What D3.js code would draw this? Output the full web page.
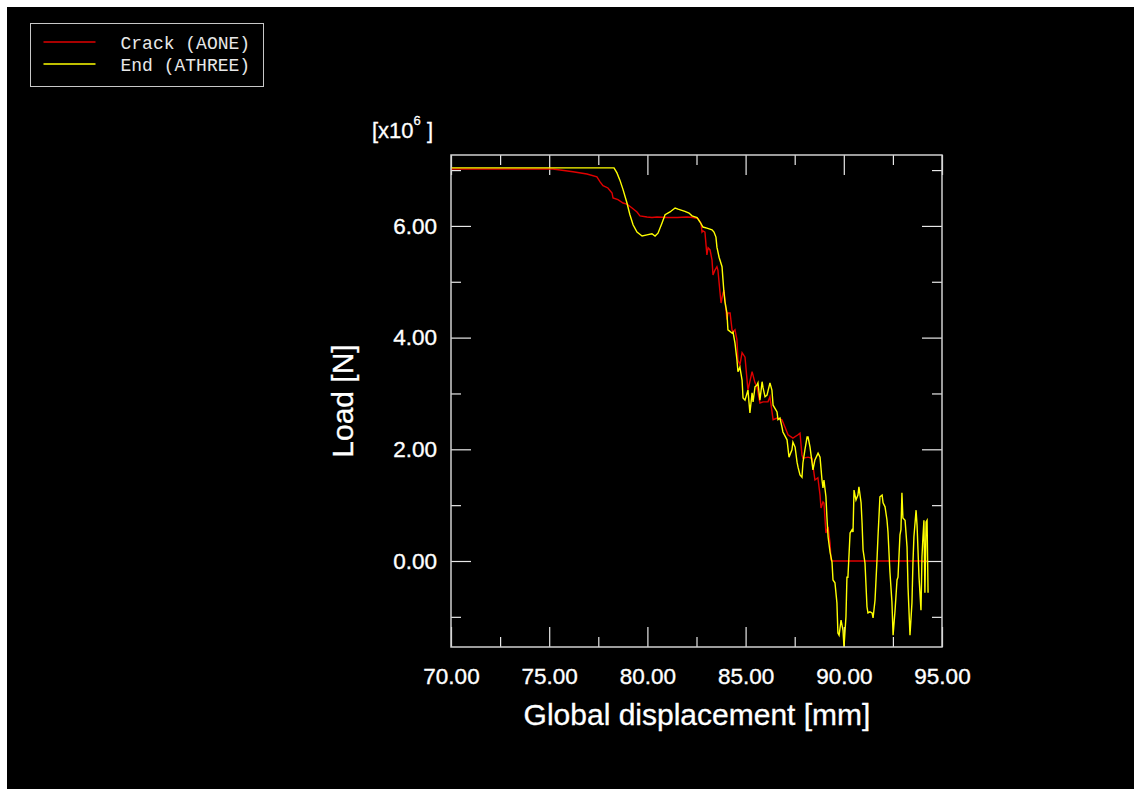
<!DOCTYPE html>
<html>
<head>
<meta charset="utf-8">
<script src="https://cdn.jsdelivr.net/npm/d3@7"></script>
<style>
  body { margin: 0; background: #fff; }
  svg { display: block; }
</style>
</head>
<body>
<div id="chart"></div>
<script>
// Crack (AONE): [displacement mm, load x1e6 N]
const crackData = [
  [70.0, 7.02], [75.19, 7.02], [76.21, 6.97], [76.92, 6.93], [77.43, 6.88], [77.59, 6.79],
  [77.74, 6.72], [77.99, 6.68], [78.2, 6.59], [78.25, 6.5], [78.5, 6.47], [78.76, 6.41],
  [78.96, 6.39], [79.22, 6.32], [79.47, 6.25], [79.62, 6.18], [79.98, 6.16], [80.23, 6.15],
  [80.49, 6.16], [81.0, 6.15], [81.51, 6.15], [82.02, 6.16], [82.32, 6.15], [82.58, 6.13],
  [82.73, 6.05], [82.78, 5.89], [82.83, 5.91], [82.93, 5.89], [83.03, 5.48], [83.09, 5.61],
  [83.19, 5.57], [83.29, 5.39], [83.34, 5.12], [83.44, 5.21], [83.54, 5.27], [83.59, 5.21],
  [83.7, 4.8], [83.75, 4.62], [83.85, 4.8], [83.9, 4.85], [84.05, 4.32], [84.1, 4.44],
  [84.21, 4.44], [84.31, 4.14], [84.36, 4.1], [84.46, 4.14], [84.56, 3.96], [84.61, 3.6],
  [84.71, 3.51], [84.82, 3.73], [84.97, 3.65], [85.12, 3.06], [85.33, 3.39], [85.48, 3.19],
  [85.58, 3.12], [85.73, 2.83], [85.89, 2.85], [86.14, 2.85], [86.24, 2.94], [86.4, 2.53],
  [86.6, 2.56], [86.85, 2.53], [87.06, 2.35], [87.16, 2.26], [87.41, 2.2], [87.67, 2.26],
  [87.77, 2.29], [87.87, 1.9], [87.92, 1.84], [88.18, 1.86], [88.38, 1.84], [88.53, 1.45],
  [88.68, 1.49], [88.79, 1.18], [88.84, 0.95], [88.94, 1.06], [88.99, 1.04], [89.09, 0.5],
  [89.2, 0.61], [89.3, 0.32], [89.35, 0.02], [89.4, 0.0], [94.29, 0.0]
];

// End (ATHREE)
const endData = [
  [70.0, 7.04], [78.3, 7.04], [78.45, 6.95], [78.6, 6.82], [78.76, 6.65], [78.96, 6.41],
  [79.11, 6.2], [79.27, 6.02], [79.47, 5.89], [79.73, 5.82], [79.98, 5.84], [80.23, 5.86],
  [80.39, 5.82], [80.54, 5.87], [80.74, 6.05], [80.9, 6.2], [81.15, 6.25], [81.41, 6.32],
  [81.56, 6.3], [81.91, 6.26], [82.12, 6.23], [82.27, 6.18], [82.53, 6.15], [82.68, 6.07],
  [82.83, 5.98], [83.03, 5.96], [83.29, 5.93], [83.39, 5.89], [83.49, 5.8], [83.54, 5.62],
  [83.65, 5.44], [83.8, 5.27], [83.85, 5.03], [83.9, 4.8], [83.95, 4.64], [84.05, 4.44],
  [84.1, 4.14], [84.31, 4.08], [84.36, 4.1], [84.46, 3.9], [84.56, 3.6], [84.61, 3.39],
  [84.71, 3.47], [84.82, 3.24], [84.87, 2.92], [84.97, 2.88], [85.12, 3.06], [85.22, 2.65],
  [85.33, 3.01], [85.38, 2.85], [85.48, 3.12], [85.58, 3.15], [85.63, 3.19], [85.73, 2.88],
  [85.84, 3.21], [85.89, 3.1], [85.99, 2.94], [86.09, 2.97], [86.24, 3.19], [86.34, 3.06],
  [86.4, 2.79], [86.6, 2.67], [86.65, 2.53], [86.75, 2.56], [86.85, 2.4], [86.9, 2.31],
  [87.11, 2.17], [87.21, 1.86], [87.36, 1.99], [87.41, 2.13], [87.52, 2.04], [87.62, 1.77],
  [87.67, 1.68], [87.77, 1.54], [87.87, 1.5], [87.92, 1.76], [88.02, 1.99], [88.13, 2.22],
  [88.18, 2.22], [88.28, 2.04], [88.38, 1.77], [88.43, 1.63], [88.53, 1.81], [88.69, 1.93],
  [88.79, 1.86], [88.89, 1.45], [88.94, 1.31], [88.99, 1.45], [89.09, 1.15], [89.14, 0.79],
  [89.2, 0.43], [89.3, 0.16], [89.4, -0.02], [89.45, -0.34], [89.55, -0.39], [89.65, -0.75],
  [89.7, -1.29], [89.76, -1.33], [89.86, -1.06], [89.96, -1.24], [90.01, -1.54], [90.11, -1.0],
  [90.16, -0.29], [90.21, -0.29], [90.32, 0.5], [90.42, 0.56], [90.47, 0.52], [90.52, 1.27],
  [90.62, 1.09], [90.72, 1.18], [90.77, 1.33], [90.88, 1.04], [90.93, 0.68], [90.98, 0.2],
  [91.08, -0.04], [91.18, -0.82], [91.23, -0.93], [91.33, -0.91], [91.44, -0.93], [91.49, -1.02],
  [91.59, -0.7], [91.69, 0.02], [91.74, 0.43], [91.84, 1.15], [91.95, 1.18], [92.0, 1.04],
  [92.1, 0.97], [92.2, 0.73], [92.25, 0.52], [92.35, -0.2], [92.45, -0.73], [92.51, -1.33],
  [92.61, -0.88], [92.71, -0.34], [92.76, -0.29], [92.86, 0.47], [92.91, 0.56], [92.96, 1.22],
  [93.01, 0.77], [93.12, 0.73], [93.22, 0.25], [93.27, -0.47], [93.37, -1.33], [93.47, -0.75],
  [93.52, -0.04], [93.57, 0.43], [93.68, 0.91], [93.73, 0.64], [93.83, -0.29], [93.93, -0.88],
  [93.98, 0.07], [94.03, 0.43], [94.08, 0.73], [94.13, -0.57], [94.19, 0.7], [94.24, 0.73],
  [94.29, -0.57]
];

const xMajor = [70, 75, 80, 85, 90, 95];
const xMinor = [72.5, 77.5, 82.5, 87.5, 92.5];
const yMajor = [0, 2, 4, 6];
const yMinor = [-1, 1, 3, 5, 7];
const seriesNames = ['Crack (AONE)', 'End (ATHREE)'];
const seriesColors = ['#e00000', '#ffff00'];

const W = 1134;
const H = 789;
const plot = { l: 451, t: 155, w: 491, h: 492 };

const svg = d3.select('#chart').append('svg').attr('width', W).attr('height', H);

// black canvas with thin white margin top/left
svg.append('rect').attr('x', 7).attr('y', 7).attr('width', W - 7).attr('height', H - 7).attr('fill', '#000');

const x = d3.scaleLinear().domain([70, 95]).range([0, plot.w]);
const y = d3.scaleLinear().domain([-1.54, 7.27]).range([plot.h, 0]);

const g = svg.append('g').attr('transform', `translate(${plot.l}, ${plot.t})`);

const tickColor = '#e8e8e8';
const fmt = d3.format('.2f');
const sans = '"Liberation Sans", Arial, sans-serif';

function styleAxis(sel) {
  sel.select('.domain').remove();
  sel.selectAll('.tick line').attr('stroke', tickColor).attr('stroke-width', 1.2);
  sel.selectAll('.tick text')
    .attr('fill', '#fff')
    .attr('stroke', '#fff')
    .attr('stroke-width', 0.35)
    .style('font-family', sans)
    .style('font-size', '22.5px');
}

// bottom & top ticks (inward)
g.append('g').attr('transform', `translate(0, ${plot.h})`)
  .call(d3.axisBottom(x).tickValues(xMajor).tickSize(-20).tickPadding(21).tickFormat(fmt))
  .call(styleAxis);
g.append('g').attr('transform', `translate(0, ${plot.h})`)
  .call(d3.axisBottom(x).tickValues(xMinor).tickSize(-10).tickFormat(''))
  .call(styleAxis);
g.append('g')
  .call(d3.axisTop(x).tickValues(xMajor).tickSize(-20).tickFormat(''))
  .call(styleAxis);
g.append('g')
  .call(d3.axisTop(x).tickValues(xMinor).tickSize(-10).tickFormat(''))
  .call(styleAxis);

// left & right ticks
g.append('g')
  .call(d3.axisLeft(y).tickValues(yMajor).tickSize(-20).tickPadding(14).tickFormat(fmt))
  .call(styleAxis);
g.append('g')
  .call(d3.axisLeft(y).tickValues(yMinor).tickSize(-10).tickFormat(''))
  .call(styleAxis);
g.append('g').attr('transform', `translate(${plot.w}, 0)`)
  .call(d3.axisRight(y).tickValues(yMajor).tickSize(-20).tickFormat(''))
  .call(styleAxis);
g.append('g').attr('transform', `translate(${plot.w}, 0)`)
  .call(d3.axisRight(y).tickValues(yMinor).tickSize(-10).tickFormat(''))
  .call(styleAxis);

// curves
g.append('clipPath').attr('id', 'clip')
  .append('rect').attr('width', plot.w).attr('height', plot.h);

const line = d3.line().x((d) => x(d[0])).y((d) => y(d[1]));

g.append('path')
  .datum(crackData)
  .attr('clip-path', 'url(#clip)')
  .attr('d', line)
  .attr('fill', 'none')
  .attr('stroke', seriesColors[0])
  .attr('stroke-width', 1.4);

g.append('path')
  .datum(endData)
  .attr('clip-path', 'url(#clip)')
  .attr('d', line)
  .attr('fill', 'none')
  .attr('stroke', seriesColors[1])
  .attr('stroke-width', 1.4);

// frame
g.append('rect')
  .attr('width', plot.w)
  .attr('height', plot.h)
  .attr('fill', 'none')
  .attr('stroke', '#d0d0d0')
  .attr('stroke-width', 1.5);

// axis titles
svg.append('text')
  .attr('x', 697)
  .attr('y', 725)
  .attr('text-anchor', 'middle')
  .attr('fill', '#fff')
  .attr('stroke', '#fff')
  .attr('stroke-width', 0.3)
  .style('font-family', sans)
  .style('font-size', '30px')
  .text('Global displacement [mm]');

svg.append('text')
  .attr('transform', `translate(353, ${plot.t + plot.h / 2}) rotate(-90)`)
  .attr('text-anchor', 'middle')
  .attr('fill', '#fff')
  .attr('stroke', '#fff')
  .attr('stroke-width', 0.3)
  .style('font-family', sans)
  .style('font-size', '30px')
  .text('Load [N]');

// exponent label
const expo = svg.append('text')
  .attr('x', 372)
  .attr('y', 138)
  .attr('fill', '#fff')
  .attr('stroke', '#fff')
  .attr('stroke-width', 0.3)
  .style('font-family', sans)
  .style('font-size', '22px');
expo.append('tspan').text('[x10');
expo.append('tspan').attr('dy', -13).style('font-size', '13px').text('6');
expo.append('tspan').attr('dy', 13).text(' ]');

// legend
const legend = svg.append('g').attr('transform', 'translate(30.5, 23.5)');
legend.append('rect')
  .attr('width', 233)
  .attr('height', 63)
  .attr('fill', '#000')
  .attr('stroke', '#c8c8c8')
  .attr('stroke-width', 1);

legend.selectAll('.legend-line')
  .data(seriesNames)
  .join('line')
  .attr('class', 'legend-line')
  .attr('x1', 13)
  .attr('x2', 65)
  .attr('y1', (d, i) => 18.5 + 22 * i)
  .attr('y2', (d, i) => 18.5 + 22 * i)
  .attr('stroke', (d, i) => seriesColors[i])
  .attr('stroke-width', 1.4);

legend.selectAll('.legend-text')
  .data(seriesNames)
  .join('text')
  .attr('class', 'legend-text')
  .attr('x', 90)
  .attr('y', (d, i) => 25 + 22 * i)
  .attr('fill', '#e8e8e8')
  .style('font-family', '"Liberation Mono", "Courier New", monospace')
  .style('font-size', '18px')
  .text((d) => d);
</script>
</body>
</html>
